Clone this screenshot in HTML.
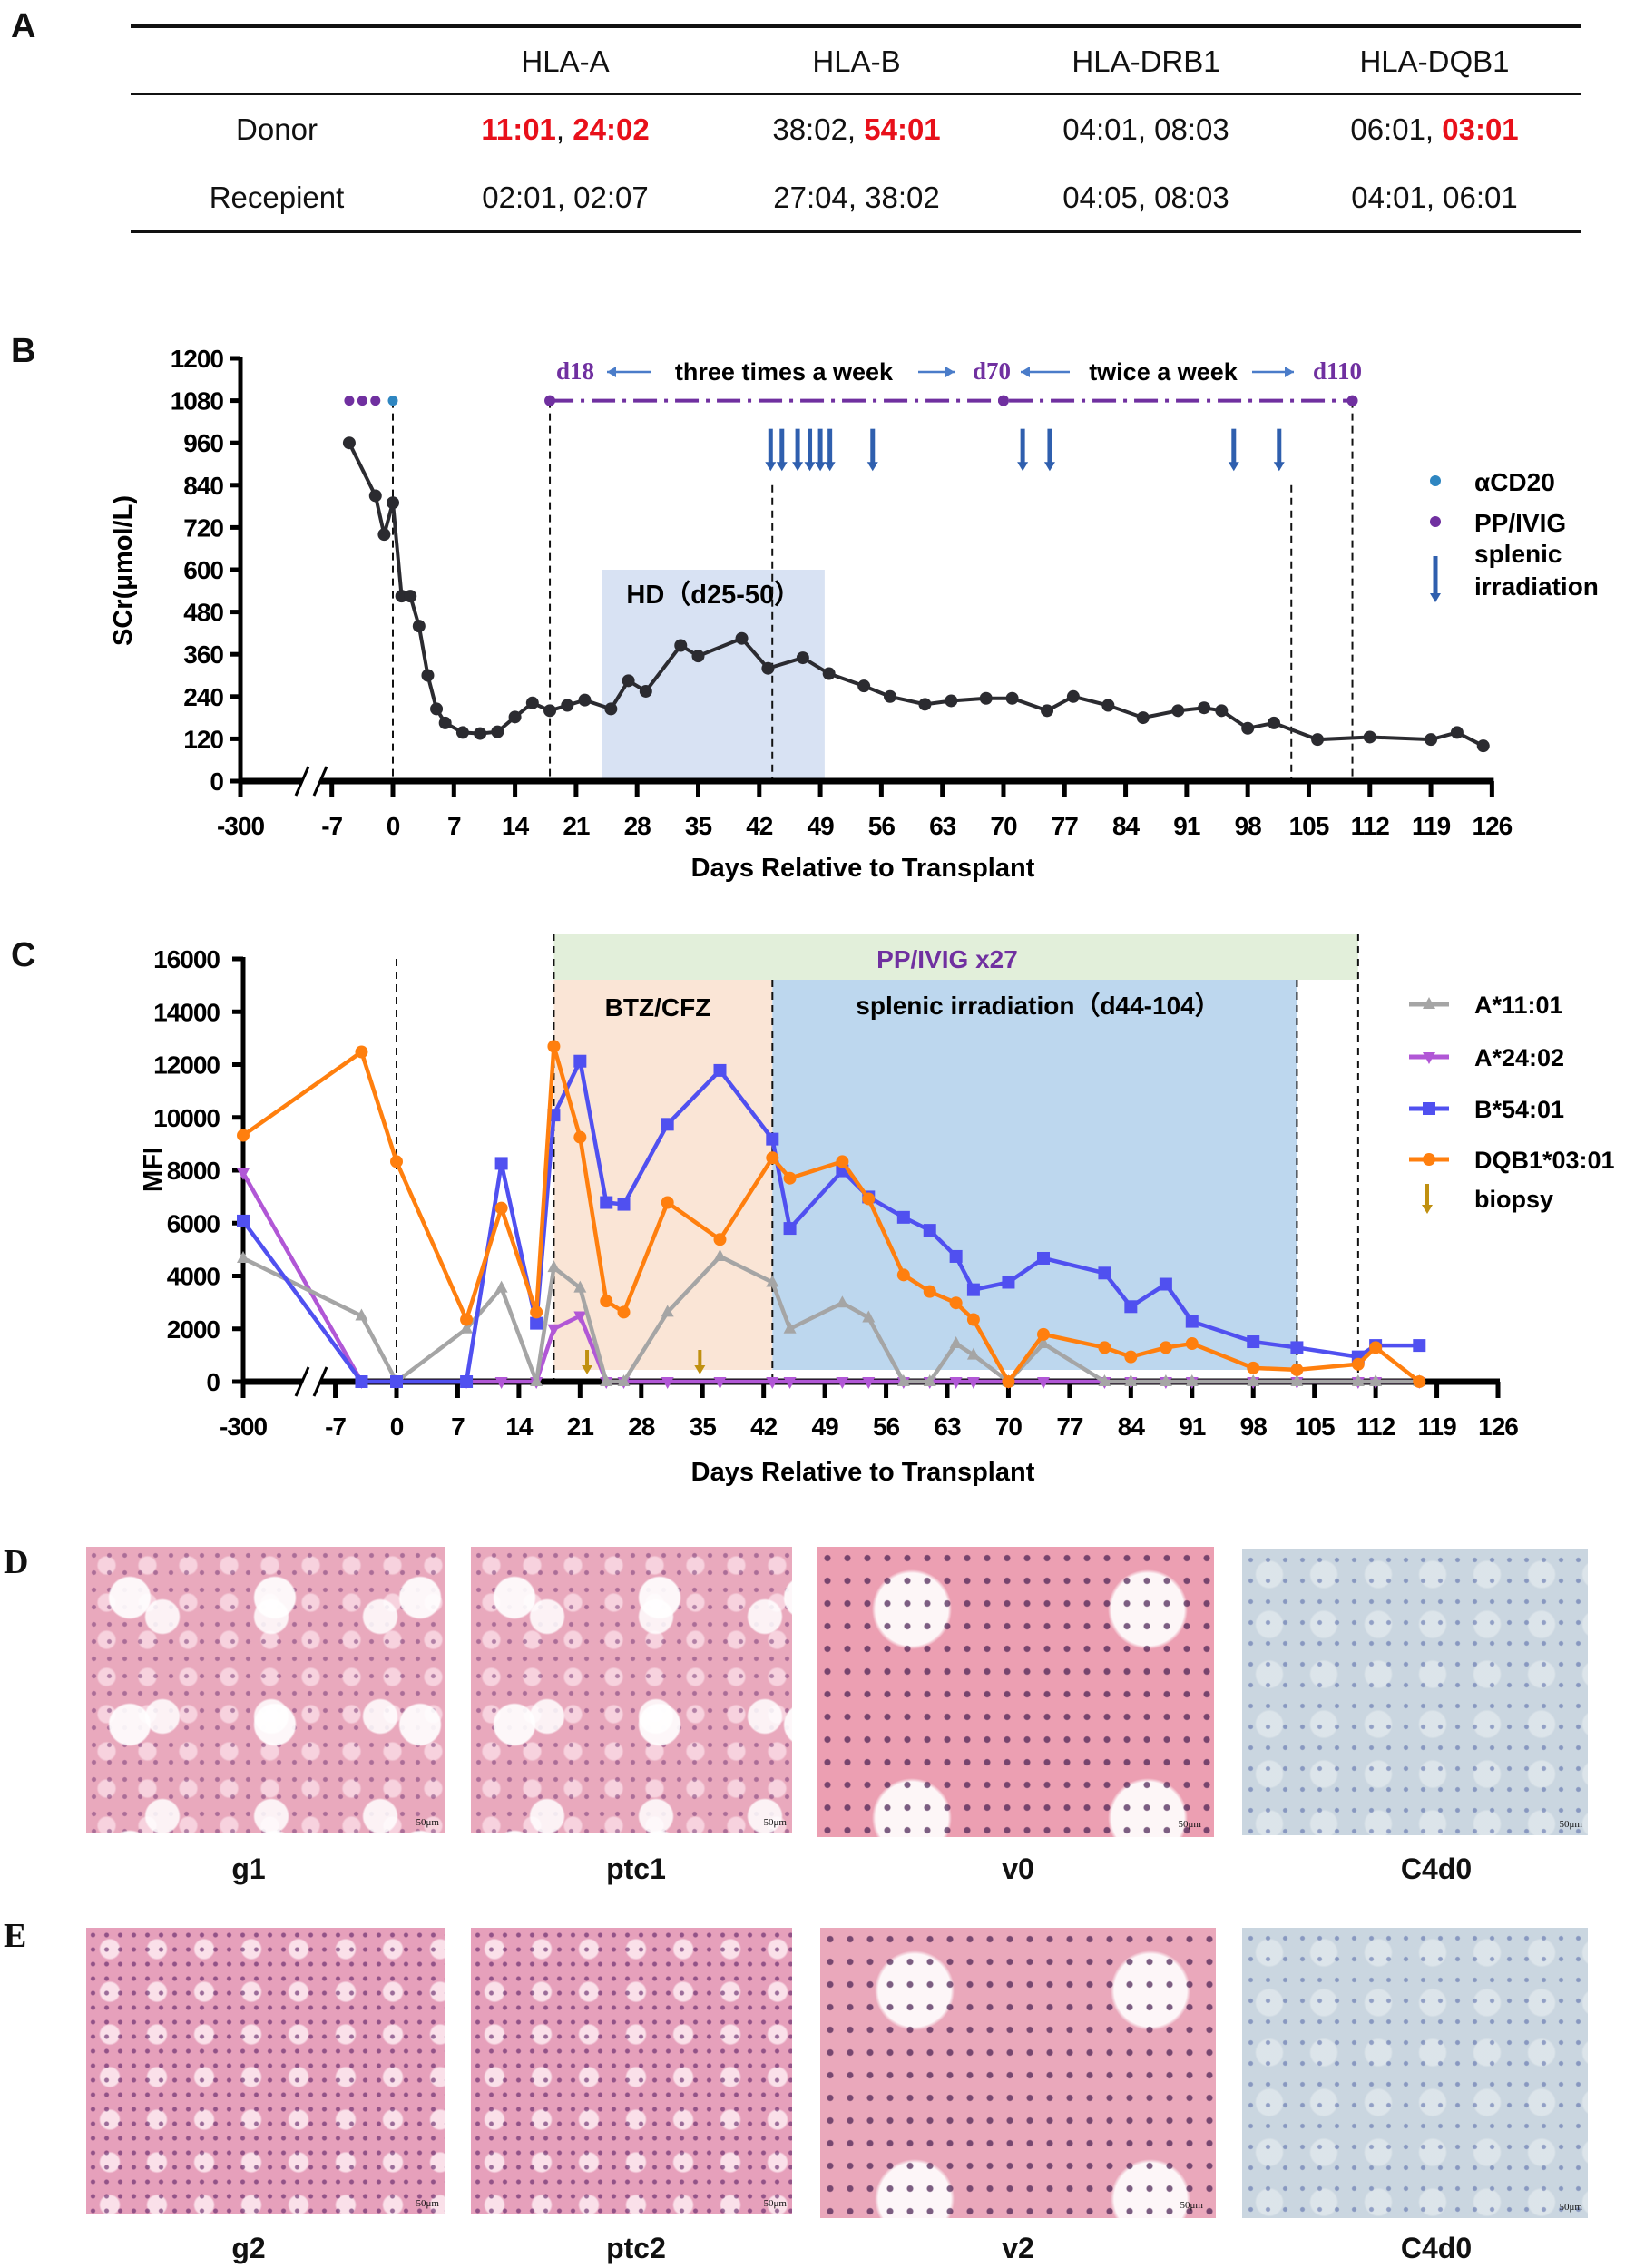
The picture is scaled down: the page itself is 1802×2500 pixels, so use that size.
<!DOCTYPE html>
<html><head><meta charset="utf-8">
<style>
html,body{margin:0;padding:0;background:#fff;}
body{width:1802px;height:2500px;position:relative;overflow:hidden;font-family:"Liberation Sans",Arial,sans-serif;}
.abs{position:absolute;}
.hl{position:absolute;left:144px;width:1599px;height:4px;background:#111;}
.cell{position:absolute;transform:translate(-50%,-50%);font-size:33px;color:#111;white-space:nowrap;}
.red{color:#e8101a;font-weight:bold;}
.plabel{position:absolute;font-weight:bold;font-size:38px;color:#111;}
.serif{font-family:"Liberation Serif",serif;}
.img{position:absolute;overflow:hidden;}
.he{background-color:#e9a9bd;
 background-image:radial-gradient(circle at 30% 40%,rgba(255,255,255,.9) 0 22px,transparent 24px),
 radial-gradient(circle at 70% 70%,rgba(255,255,255,.85) 0 18px,transparent 20px),
 radial-gradient(circle,rgba(120,60,120,.55) 0 2px,transparent 3px),
 radial-gradient(circle,rgba(250,220,230,.8) 0 9px,transparent 11px);
 background-size:160px 140px,120px 110px,17px 19px,45px 41px;}
.he2{background-color:#e6a0bb;
 background-image:radial-gradient(circle,rgba(90,30,100,.6) 0 2px,transparent 3px),
 radial-gradient(circle,rgba(255,240,245,.8) 0 10px,transparent 12px);
 background-size:15px 16px,52px 47px;}
.v{background-color:#ec9fb2;
 background-image:radial-gradient(circle,rgba(70,30,80,.7) 0 3px,transparent 4px),
 radial-gradient(circle at 40% 30%,rgba(255,255,255,.9) 0 40px,transparent 44px);
 background-size:22px 25px,260px 230px;}
.c4{background-color:#cad6e0;
 background-image:radial-gradient(circle,rgba(70,90,160,.5) 0 2px,transparent 3px),
 radial-gradient(circle,rgba(225,232,236,.8) 0 14px,transparent 16px);
 background-size:19px 23px,60px 55px;}
.lab{position:absolute;transform:translateX(-50%);font-weight:bold;font-size:32px;color:#111;}
.sb{position:absolute;font-family:"Liberation Serif",serif;font-size:11px;color:#111;}
</style></head>
<body>
<div class="plabel" style="left:12px;top:8px;">A</div>
<div>
<div class="hl" style="top:27px"></div>
<div class="hl" style="top:102px;height:3px"></div>
<div class="hl" style="top:253px"></div>
<div class="cell" style="left:623px;top:68px">HLA-A</div>
<div class="cell" style="left:944px;top:68px">HLA-B</div>
<div class="cell" style="left:1263px;top:68px">HLA-DRB1</div>
<div class="cell" style="left:1581px;top:68px">HLA-DQB1</div>
<div class="cell" style="left:305px;top:143px">Donor</div>
<div class="cell" style="left:623px;top:143px"><span class="red">11:01</span>, <span class="red">24:02</span></div>
<div class="cell" style="left:944px;top:143px">38:02, <span class="red">54:01</span></div>
<div class="cell" style="left:1263px;top:143px">04:01, 08:03</div>
<div class="cell" style="left:1581px;top:143px">06:01, <span class="red">03:01</span></div>
<div class="cell" style="left:305px;top:218px">Recepient</div>
<div class="cell" style="left:623px;top:218px">02:01, 02:07</div>
<div class="cell" style="left:944px;top:218px">27:04, 38:02</div>
<div class="cell" style="left:1263px;top:218px">04:05, 08:03</div>
<div class="cell" style="left:1581px;top:218px">04:01, 06:01</div>
</div>

<div class="plabel" style="left:12px;top:366px;">B</div>
<div class="plabel" style="left:12px;top:1032px;">C</div>

<svg id="charts" class="abs" style="left:0;top:0" width="1802" height="1700"></svg>

<div class="plabel serif" style="left:4px;top:1700px;">D</div>
<div class="plabel serif" style="left:4px;top:2112px;">E</div>

<div class="img he" style="left:95px;top:1705px;width:395px;height:316px"><span class="sb" style="right:6px;bottom:6px">50μm</span></div>
<div class="img he" style="left:519px;top:1705px;width:354px;height:316px"><span class="sb" style="right:6px;bottom:6px">50μm</span></div>
<div class="img v" style="left:901px;top:1705px;width:437px;height:320px"><span class="sb" style="right:14px;bottom:8px">50μm</span></div>
<div class="img c4" style="left:1369px;top:1708px;width:381px;height:315px"><span class="sb" style="right:6px;bottom:6px">50μm</span></div>
<div class="lab" style="left:274px;top:2042px">g1</div>
<div class="lab" style="left:701px;top:2042px">ptc1</div>
<div class="lab" style="left:1122px;top:2042px">v0</div>
<div class="lab" style="left:1583px;top:2042px">C4d0</div>

<div class="img he2" style="left:95px;top:2125px;width:395px;height:316px"><span class="sb" style="right:6px;bottom:6px">50μm</span></div>
<div class="img he2" style="left:519px;top:2125px;width:354px;height:316px"><span class="sb" style="right:6px;bottom:6px">50μm</span></div>
<div class="img v" style="left:904px;top:2125px;width:436px;height:320px;background-color:#eaa8bb"><span class="sb" style="right:14px;bottom:8px">50μm</span></div>
<div class="img c4" style="left:1369px;top:2125px;width:381px;height:320px"><span class="sb" style="right:6px;bottom:6px">50μm</span></div>
<div class="lab" style="left:274px;top:2460px">g2</div>
<div class="lab" style="left:701px;top:2460px">ptc2</div>
<div class="lab" style="left:1122px;top:2460px">v2</div>
<div class="lab" style="left:1583px;top:2460px">C4d0</div>

<script>
// ---------- data ----------
const xTickDays = [-300,-7,0,7,14,21,28,35,42,49,56,63,70,77,84,91,98,105,112,119,126];
const xTickLabels = ["-300","-7","0","7","14","21","28","35","42","49","56","63","70","77","84","91","98","105","112","119","126"];
const bYTicks = [0,120,240,360,480,600,720,840,960,1080,1200];
const cYTicks = [0,2000,4000,6000,8000,10000,12000,14000,16000];
const scrDays = [-5,-2,-1,0,1,2,3,4,5,6,8,10,12,14,16,18,20,22,25,27,29,33,35,40,43,47,50,54,57,61,64,68,71,75,78,82,86,90,93,95,98,101,106,112,119,122,125];
const scrValues = [960,810,700,790,525,525,440,300,205,165,138,135,140,182,222,200,215,230,205,285,255,385,355,405,320,350,305,270,240,218,228,235,235,200,240,215,180,200,208,200,150,165,118,125,118,138,100];
const ppDotDays = [-5,-3.5,-2];
const cd20Days = [0];
const ppLineDays = [18,70,110];
const irradDays = [43.3,44.6,46.4,47.8,49,50.1,55,72.2,75.3,96.4,101.6];
const hdStart = 24, hdEnd = 49.5, hdTop = 600;
const cDays = [-300,-4,0,8,12,16,18,21,24,26,31,37,43,45,51,54,58,61,64,66,70,74,81,84,88,91,98,103,110,112,117];
const a1101 = [4670,2490,0,2000,3550,0,4320,3550,0,0,2630,4740,3760,2000,2980,2420,0,0,1440,1010,0,1440,0,0,0,0,0,0,0,0,0];
const a2402 = [7900,0,0,0,0,0,2000,2490,0,0,0,0,0,0,0,0,0,0,0,0,0,0,0,0,0,0,0,0,0,0,0];
const b5401 = [6080,0,0,0,8260,2210,10090,12130,6780,6710,9740,11780,9180,5800,7980,6990,6220,5730,4740,3480,3760,4670,4110,2840,3690,2280,1510,1290,940,1370,1370];
const dqb1 = [9320,12480,8330,2350,6570,2630,12690,9250,3050,2630,6780,5380,8470,7700,8330,6920,4040,3410,2980,2350,0,1790,1290,940,1290,1440,520,450,660,1290,0];
const biopsyDays = [21.8,34.7];

// ---------- axes ----------
function xB(d){ return d===-300 ? 265 : 433 + d*9.614; }
function yB(v){ return 861 - v*(466/1200); }
function xC(d){ return d===-300 ? 268 : 437 + d*9.635; }
function yC(v){ return 1523 - v*(466/16000); }

const svg = document.getElementById('charts');
const NS = 'http://www.w3.org/2000/svg';
function el(tag, attrs, parent){
  const e = document.createElementNS(NS, tag);
  for (const k in attrs) e.setAttribute(k, attrs[k]);
  (parent||svg).appendChild(e);
  return e;
}
function txt(x,y,s,attrs,parent){
  const t = el('text', Object.assign({x:x,y:y,'font-family':'Liberation Sans, Arial, sans-serif'},attrs), parent);
  t.textContent = s; return t;
}
function arrowDown(x,y1,y2,color,w,parent){
  const g = el('g',{},parent);
  el('line',{x1:x,y1:y1,x2:x,y2:y2-8,stroke:color,'stroke-width':w},g);
  el('path',{d:`M${x-6},${y2-10} L${x+6},${y2-10} L${x},${y2} Z`,fill:color},g);
  return g;
}

function drawAxes(xf, yf, yticks, yMax, labelRight, tickBase, titleBase, axisX, yTitle, yTitleX, name){
  const g = el('g',{});
  
  
  const y0 = yf(0);
  el('line',{x1:axisX,y1:yf(yMax)-2,x2:axisX,y2:y0+18,stroke:'#000','stroke-width':5},g);
  el('line',{x1:axisX,y1:y0,x2:xf(126)+2,y2:y0,stroke:'#000','stroke-width':7},g);
  el('rect',{x:333,y:y0-8,width:20,height:16,fill:'#fff'},g);
  el('line',{x1:326,y1:y0+16,x2:340,y2:y0-16,stroke:'#000','stroke-width':3},g);
  el('line',{x1:346,y1:y0+16,x2:360,y2:y0-16,stroke:'#000','stroke-width':3},g);
  yticks.forEach(v=>{
    const y = yf(v);
    el('line',{x1:axisX-12,y1:y,x2:axisX,y2:y,stroke:'#000','stroke-width':5},g);
    const t = txt(labelRight,y+10,String(v),{'text-anchor':'end','font-size':28,'font-weight':'bold','letter-spacing':'-1'},g);
    
    
  });
  xTickDays.forEach((d,i)=>{
    const x = xf(d);
    el('line',{x1:x,y1:y0,x2:x,y2:y0+18,stroke:'#000','stroke-width':5},g);
    const t = txt(x,tickBase,xTickLabels[i],{'text-anchor':'middle','font-size':28,'font-weight':'bold','letter-spacing':'-1'},g);
    
    
  });
  const xt = txt(951,titleBase,'Days Relative to Transplant',{'text-anchor':'middle','font-size':29,'font-weight':'bold'},g);
  
  
  const yt = txt(0,0,yTitle,{'text-anchor':'middle','font-size':29,'font-weight':'bold',transform:`translate(${yTitleX[0]},${yTitleX[1]}) rotate(-90)`},g);
  
  
}

// ================= Panel B =================
const hd = el('rect',{x:xB(hdStart),y:yB(hdTop),width:xB(hdEnd)-xB(hdStart),height:yB(0)-yB(hdTop),fill:'#d8e2f3'});


const hdt = txt((xB(hdStart)+xB(hdEnd))/2, 665, 'HD（d25-50）',{'text-anchor':'middle','font-size':29,'font-weight':'bold'});



[[0,1080],[18,1080],[43.5,840],[103,840],[110,1080]].forEach(p=>{
  const l = el('line',{x1:xB(p[0]),y1:yB(p[1]),x2:xB(p[0]),y2:yB(0),stroke:'#111','stroke-width':2,'stroke-dasharray':'8,6'});
  
  
});
const ppl = el('line',{x1:xB(ppLineDays[0]),y1:yB(1080),x2:xB(ppLineDays[2]),y2:yB(1080),stroke:'#7030a0','stroke-width':4,'stroke-dasharray':'26,8,4,8'});


ppLineDays.forEach(d=>{
  const c = el('circle',{cx:xB(d),cy:yB(1080),r:6,fill:'#7030a0'});
  
  
});
ppDotDays.forEach(d=>{
  const c = el('circle',{cx:xB(d),cy:yB(1080),r:5.5,fill:'#7030a0'});
  
  
});
cd20Days.forEach(d=>{
  const c = el('circle',{cx:xB(d),cy:yB(1080),r:5.5,fill:'#2e86c1'});
  
  
});
const ann = el('g',{});


txt(634,418,'d18',{'text-anchor':'middle','font-size':27,'font-weight':'bold',fill:'#7030a0','font-family':'Liberation Serif, serif'},ann);
txt(1093,418,'d70',{'text-anchor':'middle','font-size':27,'font-weight':'bold',fill:'#7030a0','font-family':'Liberation Serif, serif'},ann);
txt(1474,418,'d110',{'text-anchor':'middle','font-size':27,'font-weight':'bold',fill:'#7030a0','font-family':'Liberation Serif, serif'},ann);
txt(864,419,'three times a week',{'text-anchor':'middle','font-size':27,'font-weight':'bold'},ann);
txt(1282,419,'twice a week',{'text-anchor':'middle','font-size':27,'font-weight':'bold'},ann);
function harrow(x1,x2,y,dir){
  el('line',{x1:x1,y1:y,x2:x2,y2:y,stroke:'#4a7cc9','stroke-width':2.5},ann);
  const tip = dir>0?x2:x1;
  el('path',{d:`M${tip},${y} L${tip-dir*10},${y-6} L${tip-dir*10},${y+6} Z`,fill:'#4a7cc9'},ann);
}
harrow(669,717,410,-1); harrow(1012,1052,410,1); harrow(1125,1179,410,-1); harrow(1380,1426,410,1);

irradDays.forEach(d=>{
  const a = arrowDown(xB(d), yB(1000), yB(880), '#2f5fae', 5);
  
  
});

drawAxes(xB,yB,bYTicks,1200,246,920,966,265,'SCr(μmol/L)',[145,629],'b');

const scrPts = scrDays.map((d,i)=>xB(d)+','+yB(scrValues[i])).join(' ');
const scrLine = el('polyline',{points:scrPts,fill:'none',stroke:'#2b2b30','stroke-width':4});


scrDays.forEach((d,i)=>{
  const c = el('circle',{cx:xB(d),cy:yB(scrValues[i]),r:7,fill:'#2b2b30'});
  
  
});

const lb = el('g',{});


el('circle',{cx:1582,cy:530,r:6,fill:'#2e86c1'},lb);
txt(1625,541,'αCD20',{'font-size':28,'font-weight':'bold'},lb);
el('circle',{cx:1582,cy:575,r:6,fill:'#7030a0'},lb);
txt(1625,586,'PP/IVIG',{'font-size':28,'font-weight':'bold'},lb);
txt(1625,620,'splenic',{'font-size':28,'font-weight':'bold'},lb);
txt(1625,656,'irradiation',{'font-size':28,'font-weight':'bold'},lb);
arrowDown(1582,613,664,'#2f5fae',5,lb);

// ================= Panel C =================
const grn = el('rect',{x:xC(18),y:1029,width:xC(110)-xC(18),height:51,fill:'#e2efda'});


const org = el('rect',{x:xC(18),y:1080,width:xC(43)-xC(18),height:430,fill:'#fae5d6'});


const blu = el('rect',{x:xC(43),y:1080,width:xC(103)-xC(43),height:430,fill:'#bdd7ee'});


const t1 = txt(1044,1067,'PP/IVIG x27',{'text-anchor':'middle','font-size':28,'font-weight':'bold',fill:'#7030a0'});
 
const t2 = txt(725,1120,'BTZ/CFZ',{'text-anchor':'middle','font-size':28,'font-weight':'bold'});
 
const t3 = txt(1144,1118,'splenic irradiation（d44-104）',{'text-anchor':'middle','font-size':28,'font-weight':'bold'});
 
[[0,1057],[18,1029],[43,1080],[103,1080],[110,1029]].forEach(p=>{
  const l = el('line',{x1:xC(p[0]),y1:p[1],x2:xC(p[0]),y2:yC(0),stroke:'#111','stroke-width':2,'stroke-dasharray':'8,6'});
  
  
});

drawAxes(xC,yC,cYTicks,16000,242,1582,1632,268,'MFI',[178,1289],'c');

function marker(shape,x,y,color,parent){
  if(shape==='circle') return el('circle',{cx:x,cy:y,r:7,fill:color},parent);
  if(shape==='square') return el('rect',{x:x-7,y:y-7,width:14,height:14,fill:color},parent);
  if(shape==='tri') return el('path',{d:`M${x},${y-8} L${x+7},${y+5} L${x-7},${y+5} Z`,fill:color},parent);
  return el('path',{d:`M${x},${y+8} L${x+7},${y-5} L${x-7},${y-5} Z`,fill:color},parent);
}
function series(vals,color,shape,name){
  const g = el('g',{});
  
  
  el('polyline',{points:cDays.map((d,i)=>xC(d)+','+yC(vals[i])).join(' '),fill:'none',stroke:color,'stroke-width':4.5,'stroke-linejoin':'round'},g);
  cDays.forEach((d,i)=>{
    const m = marker(shape,xC(d),yC(vals[i]),color,g);
    
    
  });
}
series(a2402,'#b157d6','tridown','series-a2402');
series(a1101,'#a5a5a5','tri','series-a1101');
series(b5401,'#5050f0','square','series-b5401');
series(dqb1,'#ff7f0e','circle','series-dqb1');

biopsyDays.forEach(d=>{
  const a = arrowDown(xC(d),1488,1515,'#c09010',4);
  
  
});

const lc = el('g',{});


[['A*11:01','#a5a5a5','tri',1107],['A*24:02','#b157d6','tridown',1165],['B*54:01','#5050f0','square',1222],['DQB1*03:01','#ff7f0e','circle',1278]].forEach(e=>{
  const g = el('g',{},lc);
  
  
  el('line',{x1:1553,y1:e[3],x2:1597,y2:e[3],stroke:e[1],'stroke-width':5},g);
  marker(e[2],1575,e[3],e[1],g);
  txt(1625,e[3]+10,e[0],{'font-size':27,'font-weight':'bold'},g);
});
arrowDown(1573,1305,1338,'#c09010',4,lc);
txt(1625,1331,'biopsy',{'font-size':27,'font-weight':'bold'},lc);
</script>
</body></html>
